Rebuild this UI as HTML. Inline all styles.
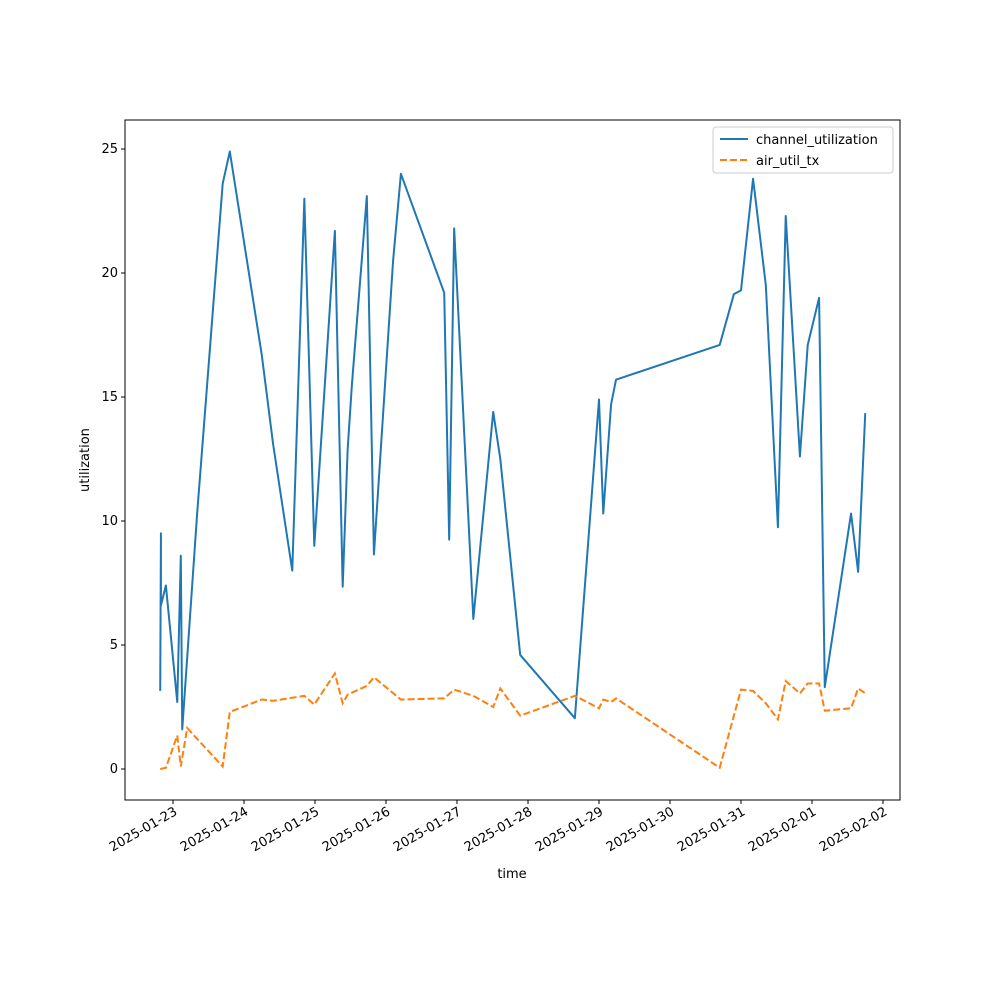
<!DOCTYPE html>
<html><head><meta charset="utf-8"><style>body{margin:0;background:#fff}svg text{font-family:"DejaVu Sans","Liberation Sans",sans-serif;font-size:13px;fill:#000}</style></head>
<body>
<svg id="chart" width="1000" height="1000" xmlns="http://www.w3.org/2000/svg"></svg>
<script>
// days since 2025-01-23 00:00
const cuDays=[-0.18,-0.17,-0.17,-0.10,0.06,0.11,0.13,0.34,0.70,0.80,1.25,1.41,1.68,1.85,1.99,2.28,2.39,2.46,2.52,2.73,2.83,3.10,3.21,3.82,3.89,3.96,4.23,4.51,4.61,4.89,5.66,6.00,6.06,6.17,6.24,7.70,7.90,8.00,8.17,8.35,8.52,8.63,8.83,8.94,9.10,9.18,9.55,9.65,9.75];
const cuVals=[3.15,9.5,6.6,7.4,2.7,8.6,1.6,10.3,23.6,24.9,16.7,13.1,8.0,23.0,9.0,21.7,7.35,12.9,15.5,23.1,8.65,20.5,24.0,19.2,9.25,21.8,6.05,14.4,12.5,4.6,2.05,14.9,10.3,14.7,15.7,17.1,19.15,19.3,23.8,19.5,9.75,22.3,12.6,17.1,19.0,3.3,10.3,7.95,14.35];
const atDays=[-0.18,-0.10,0.06,0.11,0.20,0.70,0.80,1.25,1.41,1.85,1.99,2.28,2.39,2.46,2.73,2.83,3.21,3.82,3.96,4.23,4.51,4.61,4.89,5.66,6.00,6.06,6.17,6.24,7.70,8.00,8.17,8.35,8.52,8.63,8.83,8.94,9.10,9.18,9.55,9.65,9.75];
const atVals=[0,0.05,1.35,0.1,1.65,0.1,2.3,2.8,2.75,2.95,2.6,3.85,2.65,3.0,3.35,3.7,2.8,2.85,3.2,2.95,2.5,3.25,2.15,2.95,2.45,2.8,2.7,2.85,0.05,3.2,3.15,2.65,2.0,3.55,3.05,3.45,3.45,2.35,2.45,3.25,3.05];
const xTickLabels=["2025-01-23","2025-01-24","2025-01-25","2025-01-26","2025-01-27","2025-01-28","2025-01-29","2025-01-30","2025-01-31","2025-02-01","2025-02-02"];
const yTicks=[0,5,10,15,20,25];

const svg=document.getElementById('chart');const NS="http://www.w3.org/2000/svg";
const L=125,R=900,T=120,B=800;
const xs=d=>173+d*71, ys=v=>769-v*24.8;
function mk(tag,attrs,parent){const e=document.createElementNS(NS,tag);for(const k in attrs)e.setAttribute(k,attrs[k]);(parent||svg).appendChild(e);return e;}
const frame=mk('rect',{x:L,y:T,width:R-L,height:B-T,fill:'none',stroke:'#000','stroke-width':1});


yTicks.forEach(v=>{const y=ys(v);
 const t=mk('line',{x1:L-4,x2:L,y1:y,y2:y,stroke:'#000'});
 
 
 const tx=mk('text',{x:L-7,y:y+4,'text-anchor':'end'});tx.textContent=v;
 
 
});
xTickLabels.forEach((lab,i)=>{const x=xs(i);
 const t=mk('line',{x1:x,x2:x,y1:B,y2:B+4,stroke:'#000'});
 
 
 const tx=mk('text',{x:x+5,y:B+14,'text-anchor':'end',transform:`rotate(-30 ${x+5} ${B+14})`});tx.textContent=lab;
 
 
});
const xt=mk('text',{x:512,y:878,'text-anchor':'middle'});xt.textContent='time';


const yt=mk('text',{x:89,y:460,'text-anchor':'middle',transform:'rotate(-90 89 460)'});yt.textContent='utilization';


const p1=mk('polyline',{points:cuDays.map((d,i)=>xs(d)+','+ys(cuVals[i])).join(' '),fill:'none',stroke:'#1f77b4','stroke-width':2,'stroke-linejoin':'round'});


const p2=mk('polyline',{points:atDays.map((d,i)=>xs(d)+','+ys(atVals[i])).join(' '),fill:'none',stroke:'#ff7f0e','stroke-width':2,'stroke-dasharray':'7,3'});


const lg=mk('g',{});


mk('rect',{x:713,y:127,width:180,height:46,fill:'#fff',stroke:'#ccc',rx:3},lg);
mk('line',{x1:720,x2:748,y1:139,y2:139,stroke:'#1f77b4','stroke-width':2},lg);
const l1=mk('text',{x:756,y:144},lg);l1.textContent='channel_utilization';


mk('line',{x1:720,x2:748,y1:160,y2:160,stroke:'#ff7f0e','stroke-width':2,'stroke-dasharray':'7,3'},lg);
const l2=mk('text',{x:756,y:165},lg);l2.textContent='air_util_tx';


</script>
</body></html>
